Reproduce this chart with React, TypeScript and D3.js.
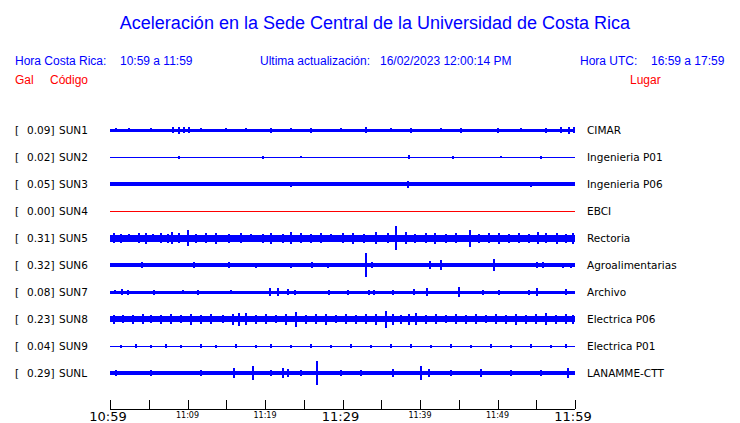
import React from "react";
import * as d3 from "d3";

// ---- data ----
const codes = ["SUN1", "SUN2", "SUN3", "SUN4", "SUN5", "SUN6", "SUN7", "SUN8", "SUN9", "SUNL"];
const peaks = ["0.09", "0.02", "0.05", "0.00", "0.31", "0.32", "0.08", "0.23", "0.04", "0.29"];
const places = ["CIMAR", "Ingenieria P01", "Ingenieria P06", "EBCI", "Rectoria", "Agroalimentarias", "Archivo", "Electrica P06", "Electrica P01", "LANAMME-CTT"];
// background noise half-amplitude per station (trace units)
const noiseLevels = [1.5, 0.5, 2, 0.5, 3.5, 2, 1.5, 3, 0.5, 2];
const traceColors = ["blue", "blue", "blue", "red", "blue", "blue", "blue", "blue", "blue", "blue"];

// spikes: [minute after 10:59, half-amplitude]
const spikesSUN1: [number, number][] = [[0.6, 2], [2.3, 2], [5.2, 2], [8.0, 3], [8.8, 3.5], [9.4, 3], [10.1, 3], [11.6, 2], [14.8, 2], [17.4, 2], [20.6, 2.5], [23.2, 2], [25.8, 2.5], [29.7, 2], [32.9, 3], [36.1, 2], [38.7, 2.5], [42.6, 2], [45.2, 2.5], [49.9, 2.5], [52.9, 2], [56.1, 2.5], [58.1, 3], [59.1, 3.5], [59.7, 3]];
const spikesSUN2: [number, number][] = [[8.8, 1.5], [19.6, 1.5], [24.5, 1], [38.5, 2], [44.1, 1.5], [50.3, 1], [55.5, 1.5]];
const spikesSUN3: [number, number][] = [[23.2, 2.5], [38.3, 3.5], [54.2, 2.5]];
const spikesSUN4: [number, number][] = [];
const spikesSUN5: [number, number][] = [[0.4, 5], [1.3, 4.5], [2.3, 4], [3.6, 5], [4.5, 5.5], [5.4, 4], [6.5, 5], [7.4, 4.5], [7.9, 6], [8.8, 5], [9.9, 8], [11.0, 4.5], [12.3, 5], [13.5, 5.5], [15.2, 4.5], [16.8, 5], [18.1, 4], [19.6, 4.5], [20.6, 5.5], [22.2, 4.5], [23.2, 6], [24.5, 5], [25.8, 4.5], [27.1, 5], [28.4, 4], [29.9, 5], [31.2, 5.5], [32.6, 4.5], [34.2, 6], [35.7, 5], [36.8, 12], [38.1, 6], [39.2, 4.5], [40.6, 5], [41.8, 5.5], [43.2, 4.5], [44.5, 5], [46.3, 8.5], [47.5, 4.5], [48.8, 5], [50.1, 5.5], [51.4, 4.5], [52.6, 5], [53.9, 4.5], [55.1, 6], [56.1, 5], [57.5, 5.5], [58.7, 4.5], [59.6, 5.5]];
const spikesSUN6: [number, number][] = [[4.0, 3], [10.7, 3], [15.2, 3], [18.7, 2.5], [23.2, 2.5], [25.9, 3], [28.0, 2.5], [32.9, 12], [33.7, 3], [41.2, 4], [42.6, 5], [49.4, 6], [55.0, 3], [55.7, 3], [58.3, 2.5], [59.4, 2.5]];
const spikesSUN7: [number, number][] = [[0.5, 2], [1.4, 3], [2.2, 2.5], [5.5, 2.5], [9.3, 2], [11.2, 2.5], [15.5, 2], [20.5, 4], [21.5, 4], [22.8, 3], [23.7, 2.5], [28.1, 2.5], [30.6, 2.5], [33.3, 2.5], [33.9, 2.5], [36.4, 2.5], [39.1, 3], [40.8, 4], [44.9, 5], [48.0, 2.5], [50.1, 2.5], [53.9, 2.5], [55.0, 4], [58.7, 3]];
const spikesSUN8: [number, number][] = [[0.4, 4.5], [1.5, 4], [2.8, 4.5], [4.1, 5], [5.2, 4], [6.5, 4.5], [7.7, 5], [9.0, 4], [10.3, 5.5], [11.6, 4.5], [12.9, 5], [14.5, 4], [15.7, 5.5], [16.5, 6.5], [17.4, 6], [18.7, 4.5], [20.0, 5], [21.3, 4], [22.6, 5.5], [23.9, 7.5], [25.2, 4.5], [26.5, 5], [27.7, 5.5], [29.0, 4], [30.3, 5], [31.6, 4.5], [32.9, 5], [34.2, 5.5], [35.5, 8.5], [36.4, 5.5], [37.4, 4.5], [38.5, 5.5], [39.4, 6], [40.6, 4.5], [41.9, 5], [43.2, 4], [44.5, 5], [45.8, 4.5], [47.1, 5], [48.4, 4], [49.7, 5], [51.0, 4.5], [52.3, 5.5], [53.5, 4.5], [54.8, 5], [56.1, 6], [57.4, 4.5], [58.7, 5], [59.6, 4.5]];
const spikesSUN9: [number, number][] = [[1.3, 1.5], [3.2, 2], [5.2, 1.5], [7.1, 2], [9.0, 1.5], [11.6, 2], [13.5, 1.5], [16.1, 2], [18.7, 1.5], [20.6, 2], [23.2, 1.5], [25.8, 2], [28.4, 1.5], [31.0, 2], [33.5, 1.5], [36.1, 2], [38.7, 2], [41.3, 1.5], [43.9, 2], [46.5, 1.5], [49.0, 2], [51.6, 1.5], [54.2, 2], [56.8, 1.5], [58.7, 2]];
const spikesSUNL: [number, number][] = [[0.6, 3], [5.2, 3], [11.6, 3], [15.9, 5], [18.3, 7], [20.6, 3], [22.2, 5], [22.8, 4], [24.5, 3], [26.6, 12], [29.7, 3], [32.3, 3], [36.4, 4], [40.0, 7], [41.0, 4], [43.9, 3], [47.7, 4], [51.6, 3], [55.5, 3], [59.0, 5]];
const spikes = [spikesSUN1, spikesSUN2, spikesSUN3, spikesSUN4, spikesSUN5, spikesSUN6, spikesSUN7, spikesSUN8, spikesSUN9, spikesSUNL];

const tickMinutes = [0, 5, 10, 15, 20, 25, 30, 35, 40, 45, 50, 55, 60];
const majorLabels: [number, string][] = [[0, "10:59"], [30, "11:29"], [60, "11:59"]];
const minorLabels: [number, string][] = [[10, "11:09"], [20, "11:19"], [40, "11:39"], [50, "11:49"]];

const W = 740, H = 423;
const BLUE = "#0000ff";
const RED = "#ff0000";

export default function App() {
  const x = d3.scaleLinear().domain([0, 60]).range([110, 575]);
  const row = d3.scaleLinear().domain([0, 9]).range([130, 373]);
  const amp = d3.scaleLinear().domain([0, 10]).range([0, 10]);
  const axisY = 409;
  const sans = "'Liberation Sans', Arial, sans-serif";
  const dv = "'DejaVu Sans', sans-serif";

  return (
    <svg width={W} height={H} style={{ position: "absolute", left: 0, top: 0, background: "#fff" }}>
      <text x={375} y={29} textAnchor="middle" fontFamily={sans} fontSize={18} fill={BLUE}>
        Aceleración en la Sede Central de la Universidad de Costa Rica
      </text>
      <g fontFamily={sans} fontSize={12} fill={BLUE}>
        <text x={15} y={65}>Hora Costa Rica:</text>
        <text x={120} y={65}>10:59 a 11:59</text>
        <text x={260} y={65}>Ultima actualización:</text>
        <text x={380} y={65}>16/02/2023 12:00:14 PM</text>
        <text x={580} y={65}>Hora UTC:</text>
        <text x={651} y={65}>16:59 a 17:59</text>
      </g>
      <g fontFamily={sans} fontSize={12} fill={RED}>
        <text x={15} y={84}>Gal</text>
        <text x={50} y={84}>Código</text>
        <text x={630} y={84}>Lugar</text>
      </g>
      {codes.map((c, i) => {
        const cy = row(i);
        const col = traceColors[i] === "red" ? RED : BLUE;
        const n = amp(noiseLevels[i]);
        const h = Math.max(Math.round(2 * n), 1);
        return (
          <g key={c}>
            <g fontFamily={dv} fontSize={10.5} fill="#000">
              <text x={15} y={cy + 4}>[</text>
              <text x={27} y={cy + 4}>{peaks[i]}]</text>
              <text x={59} y={cy + 4}>{c}</text>
              <text x={587} y={cy + 4}>{places[i]}</text>
            </g>
            <g shapeRendering="crispEdges">
              <rect x={x(0)} y={Math.round(cy - h / 2)} width={x(60) - x(0)} height={h} fill={col} />
              {spikes[i].map(([m, a], j) => (
                <rect key={j} x={Math.round(x(m))} width={2} y={Math.round(cy - amp(a))} height={Math.round(2 * amp(a))} fill={col} />
              ))}
            </g>
          </g>
        );
      })}
      <g stroke="#000" strokeWidth={1} shapeRendering="crispEdges">
        <line x1={x(0)} x2={x(60)} y1={axisY + 0.5} y2={axisY + 0.5} />
        {tickMinutes.map((m) => (
          <line key={m} x1={Math.round(x(m)) + 0.5} x2={Math.round(x(m)) + 0.5} y1={axisY - 9} y2={axisY} />
        ))}
      </g>
      <g fontFamily={dv} fontSize={13} fill="#000" textAnchor="middle">
        {majorLabels.map(([m, l]) => (
          <text key={l} x={x(m) - 2} y={421}>{l}</text>
        ))}
      </g>
      <g fontFamily={dv} fontSize={8} fill="#000" textAnchor="middle">
        {minorLabels.map(([m, l]) => (
          <text key={l} x={x(m)} y={418}>{l}</text>
        ))}
      </g>
    </svg>
  );
}
